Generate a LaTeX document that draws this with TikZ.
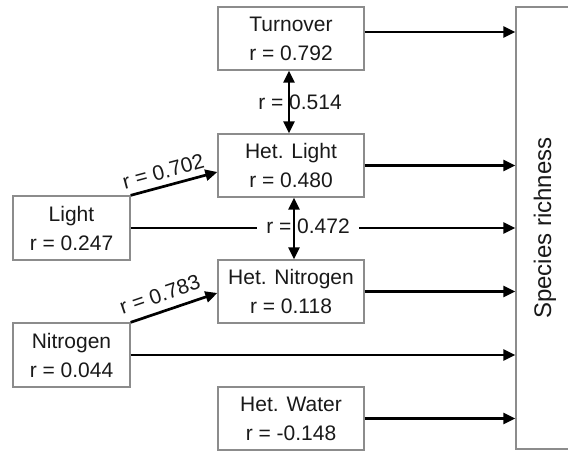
\documentclass[tikz,border=0pt]{standalone}
\usepackage{fontspec}
\setmainfont{Liberation Sans}
\usetikzlibrary{arrows.meta,calc}
\begin{document}
\begin{tikzpicture}[x=1pt,y=-1pt,
  box/.style={draw=black!45, line width=1.3pt, minimum width=146pt, minimum height=63pt,
    inner sep=0pt, align=center, font=\fontsize{21}{29}\selectfont, text=black!90},
  conn/.style={line width=2.7pt, -{Triangle[length=12pt,width=11pt]}},
  dconn/.style={line width=2.7pt, {Triangle[length=12pt,width=11pt]}-{Triangle[length=12pt,width=11pt]}},
  lab/.style={font=\fontsize{21}{25}\selectfont, text=black!90}
]
\useasboundingbox (0,0) rectangle (568,451);
\clip (0,0) rectangle (568,451);

% boxes
\node[box] (Turnover) at (291,38.5) {Turnover\\r = 0.792};
\node[box] (HetLight) at (291,165.5) {Het. Light\\r = 0.480};
\node[box] (HetNitrogen) at (291,291.5) {Het. Nitrogen\\r = 0.118};
\node[box] (HetWater) at (291,418.5) {Het. Water\\r = -0.148};
\node[box, minimum width=117pt, minimum height=64pt] (Light) at (71.5,228) {Light\\r = 0.247};
\node[box, minimum width=117pt, minimum height=64pt] (Nitrogen) at (71.5,355) {Nitrogen\\r = 0.044};
\node[box, rotate=90, minimum width=442pt, minimum height=58pt,
  font=\fontsize{24}{28}\selectfont] (Species) at (545,228) {Species richness};

% arrows to species richness
\coordinate (tA) at ([yshift=6.5pt]Turnover.east);
\draw[conn] (tA) -- (tA -| Species.north);
\draw[conn] (HetLight.east) -- (HetLight.east -| Species.north);
\draw[conn] (Light.east) -- (Light.east -| Species.north);
\draw[conn] (HetNitrogen.east) -- (HetNitrogen.east -| Species.north);
\draw[conn] (Nitrogen.east) -- (Nitrogen.east -| Species.north);
\draw[conn] (HetWater.east) -- (HetWater.east -| Species.north);

% diagonal arrows
\draw[conn] (Light.north east) -- ([yshift=-6.5pt]HetLight.west)
  node[lab, sloped, pos=0.42, inner sep=0pt, above=6pt] (r702) {r = 0.702};
\draw[conn] (Nitrogen.north east) -- ([yshift=-1.5pt]HetNitrogen.west)
  node[lab, sloped, pos=0.40, inner sep=0pt, above=8pt] (r783) {r = 0.783};

% correlation double arrows
\coordinate (v1t) at ([xshift=-2pt]Turnover.south);
\coordinate (v1b) at ([xshift=-2pt]HetLight.north);
\coordinate (v2t) at ([xshift=3pt]HetLight.south);
\coordinate (v2b) at ([xshift=3pt]HetNitrogen.north);
\node[lab, inner sep=0pt] (r514) at ($(v1t)!0.5!(v1b)+(11,0)$) {r = 0.514};
\node[lab, fill=white, inner xsep=9pt, inner ysep=2pt] (r472) at ($(v2t)!0.5!(v2b)+(14,-2.5)$) {r = 0.472};
\draw[dconn] (v1t) -- (v1b);
\draw[dconn] (v2t) -- (v2b);
\end{tikzpicture}
\end{document}
